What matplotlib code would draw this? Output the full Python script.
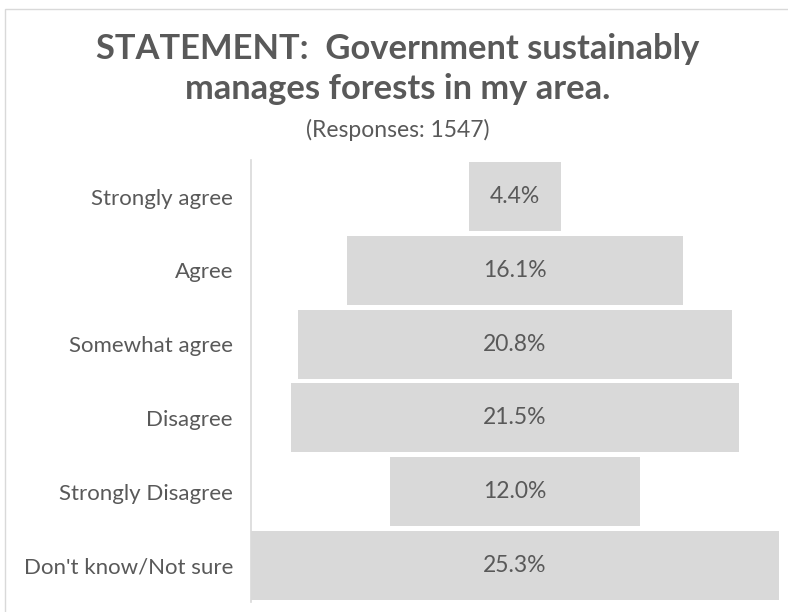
import matplotlib
matplotlib.use("Agg")
import matplotlib.pyplot as plt
from matplotlib.patches import Rectangle

# Survey responses (share of respondents, %)
categories = ["Strongly agree", "Agree", "Somewhat agree", "Disagree",
              "Strongly Disagree", "Don't know/Not sure"]
shares = [4.4, 16.1, 20.8, 21.5, 12.0, 25.3]
n_responses = 1547

bar_color = "#d9d9d9"
text_color = "#595959"

fig = plt.figure(figsize=(7.88, 6.12), dpi=100)
ax = fig.add_axes([251 / 788, 10 / 612, 528 / 788, 442 / 612])

# centred bars -> funnel look
ypos = list(range(len(categories)))
lefts = [-v / 2 for v in shares]
ax.barh(ypos, shares, left=lefts, height=0.937, color=bar_color)

for y, v in zip(ypos, shares):
    ax.text(0, y, f"{v:.1f}%", ha="center", va="center",
            fontsize=16.5, color=text_color, family="Lato")

half = max(shares) / 2
ax.set_xlim(-half, half)
ax.set_ylim(len(categories) - 0.5, -0.5)
ax.set_yticks(ypos)
ax.set_yticklabels(categories, fontsize=16, color=text_color, family="Lato")
ax.tick_params(axis="y", length=0, pad=13)
ax.set_xticks([])
for side in ["top", "right", "bottom"]:
    ax.spines[side].set_visible(False)
ax.spines["left"].set_color(bar_color)
ax.spines["left"].set_linewidth(1.2)

# titles
cx = 398 / 788
fig.text(cx, 1 - 59 / 612, "STATEMENT:  Government sustainably",
         ha="center", va="baseline", fontsize=24.8, fontweight="bold",
         color=text_color, family="Lato")
fig.text(cx, 1 - 99 / 612, "manages forests in my area.",
         ha="center", va="baseline", fontsize=24.8, fontweight="bold",
         color=text_color, family="Lato")
fig.text(cx, 1 - 137 / 612, f"(Responses: {n_responses})",
         ha="center", va="baseline", fontsize=16.5, color=text_color, family="Lato")

# chart area frame
fig.add_artist(Rectangle((5 / 788, -0.05), 1.0, 1.05 - 8.5 / 612,
                         transform=fig.transFigure, fill=False,
                         edgecolor=bar_color, linewidth=1))

fig.savefig("out.png", dpi=100)
